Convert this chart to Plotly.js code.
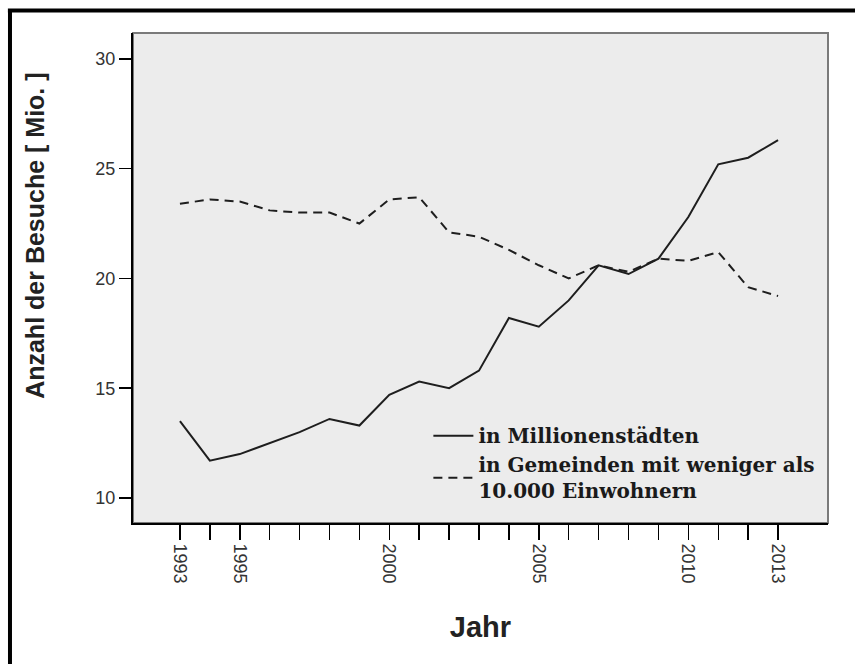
<!DOCTYPE html>
<html>
<head>
<meta charset="utf-8">
<script src="https://cdn.plot.ly/plotly-3.0.1.min.js"></script>
<style>
html, body { margin: 0; padding: 0; background: #ffffff; }
#chart { width: 855px; height: 664px; }
</style>
</head>
<body>
<div id="chart"></div>
<script>
const years = [1993, 1994, 1995, 1996, 1997, 1998, 1999, 2000, 2001, 2002, 2003,
               2004, 2005, 2006, 2007, 2008, 2009, 2010, 2011, 2012, 2013];
const millionenstaedte = [13.5, 11.7, 12.0, 12.5, 13.0, 13.6, 13.3, 14.7, 15.3, 15.0, 15.8,
                          18.2, 17.8, 19.0, 20.6, 20.2, 20.9, 22.8, 25.2, 25.5, 26.3];
const kleineGemeinden = [23.4, 23.6, 23.5, 23.1, 23.0, 23.0, 22.5, 23.6, 23.7, 22.1, 21.9,
                         21.3, 20.6, 20.0, 20.6, 20.3, 20.9, 20.8, 21.2, 19.6, 19.2];
const seriesNames = ["in Millionenstädten", "in Gemeinden mit weniger als<br>10.000 Einwohnern"];
const labeledYears = [1993, 1995, 2000, 2005, 2010, 2013];
const xTickVals = years;
const xTickText = years.map(y => labeledYears.includes(y) ? String(y) : "");
const yTickVals = [10, 15, 20, 25, 30];
const xTitle = "Jahr";
const yTitle = "Anzahl der Besuche [ Mio. ]";

const traces = [
  {
    x: years, y: millionenstaedte, name: seriesNames[0], type: "scatter", mode: "lines",
    line: { color: "#1e1e1e", width: 2, dash: "solid" }
  },
  {
    x: years, y: kleineGemeinden, name: seriesNames[1], type: "scatter", mode: "lines",
    line: { color: "#1e1e1e", width: 2, dash: "9px,6px" }
  }
];

const sansFont = "Liberation Sans, Arial, sans-serif";

const layout = {
  width: 855, height: 664,
  margin: { l: 133, r: 27, t: 33, b: 141 },
  paper_bgcolor: "#ffffff",
  plot_bgcolor: "#ececec",
  showlegend: true,
  legend: {
    x: 0.425, y: 0.218, xanchor: "left", yanchor: "top",
    bgcolor: "rgba(0,0,0,0)", borderwidth: 0,
    font: { family: "DejaVu Serif", size: 20, color: "#1a1a1a", weight: "bold" },
    tracegroupgap: 0, itemwidth: 40
  },
  xaxis: {
    range: [1991.43, 2014.67],
    tickmode: "array", tickvals: xTickVals, ticktext: xTickText,
    ticks: "outside", ticklen: 15, tickwidth: 1.5, tickcolor: "#000000",
    tickangle: 90,
    tickfont: { family: sansFont, size: 18, color: "#333333" },
    showgrid: false, zeroline: false,
    showline: true, linecolor: "#000000", linewidth: 2,
    title: { text: xTitle, standoff: 34,
             font: { family: sansFont, size: 29, color: "#222222", weight: "bold" } }
  },
  yaxis: {
    range: [8.86, 31.18],
    tickmode: "array", tickvals: yTickVals,
    ticks: "outside", ticklen: 12, tickwidth: 1.5, tickcolor: "#000000",
    tickfont: { family: sansFont, size: 18, color: "#333333" },
    showgrid: false, zeroline: false,
    showline: true, linecolor: "#000000", linewidth: 2
  },
  annotations: [
    { text: yTitle, xref: "paper", yref: "paper", x: -0.141, y: 0.586,
      xanchor: "center", yanchor: "middle", textangle: -90, showarrow: false,
      font: { family: sansFont, size: 25, color: "#222222", weight: "bold" } }
  ],
  shapes: [
    { type: "rect", xref: "paper", yref: "paper", x0: 0, x1: 1, y0: 0, y1: 1,
      line: { color: "#7a7a7a", width: 2 }, layer: "below" },
    { type: "line", xref: "paper", yref: "paper", x0: -0.177, x1: -0.177, y0: -0.3, y1: 1.046,
      line: { color: "#000000", width: 4 } },
    { type: "line", xref: "paper", yref: "paper", x0: -0.18, x1: 1.05, y0: 1.046, y1: 1.046,
      line: { color: "#000000", width: 4 } }
  ]
};

Plotly.newPlot("chart", traces, layout, { displayModeBar: false, staticPlot: true });
</script>
</body>
</html>
